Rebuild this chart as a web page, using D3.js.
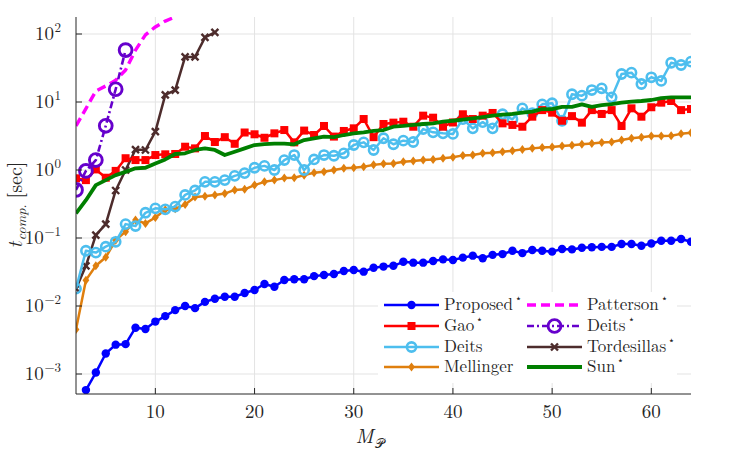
<!DOCTYPE html>
<html><head><meta charset="utf-8">
<script src="https://cdn.jsdelivr.net/npm/d3@7"></script>
<style>
html,body{margin:0;padding:0;background:#fff;}
</style></head>
<body><svg id="chart" width="738" height="458"></svg>
<script>
// ---------- data ----------
const proposedStart = 3;
const proposed = [0.00058,0.00105,0.0020,0.0027,0.00275,0.0048,0.0046,0.0059,0.0071,0.0087,0.0100,0.0093,0.0115,0.0128,0.0137,0.0137,0.0155,0.0172,0.0211,0.0192,0.0241,0.0247,0.0247,0.0275,0.0286,0.0295,0.0327,0.0339,0.0320,0.0366,0.0380,0.0390,0.0447,0.0434,0.0434,0.0460,0.0485,0.0475,0.0515,0.055,0.0505,0.0565,0.058,0.065,0.060,0.0667,0.065,0.063,0.069,0.068,0.072,0.073,0.074,0.074,0.0817,0.0817,0.077,0.083,0.091,0.091,0.0966,0.088];
const gaoStart = 2;
const gao = [0.755,0.71,1.02,0.77,0.97,1.49,1.40,1.40,1.66,1.70,1.72,2.2,2.08,3.16,2.58,3.04,2.43,3.56,3.35,2.98,3.46,3.87,2.55,3.8,3.27,4.44,3.1,3.75,4.1,5.62,3.04,4.75,4.97,5.13,4.33,6.3,5.88,4.33,5.0,6.6,5.62,6.3,6.9,4.85,4.6,4.33,6.08,7.6,6.97,5.3,6.2,4.97,7.6,6.67,7.6,4.44,8.07,6.08,8.37,9.78,10.35,7.6,7.88];
const deitsStart = 2;
const deits = [0.018,0.065,0.061,0.0745,0.088,0.16,0.15,0.235,0.273,0.264,0.29,0.43,0.50,0.67,0.67,0.71,0.82,0.90,1.08,1.15,1.0,1.40,1.66,1.0,1.43,1.66,1.62,1.76,2.33,2.55,1.97,2.93,2.39,2.70,2.58,4.0,3.58,3.46,3.39,5.6,4.1,5.05,4.1,6.6,5.57,8.07,6.83,9.25,9.6,5.3,13.0,12.4,15.0,15.9,11.7,25.8,27.0,18.4,23.1,20.4,37.8,35.0,39.2];
const mellingerStart = 2;
const mellinger = [0.0045,0.024,0.039,0.052,0.093,0.124,0.184,0.164,0.20,0.26,0.27,0.31,0.40,0.41,0.43,0.45,0.51,0.52,0.60,0.67,0.71,0.76,0.77,0.84,0.91,0.94,1.0,1.06,1.08,1.12,1.19,1.24,1.25,1.32,1.36,1.40,1.43,1.49,1.54,1.64,1.66,1.76,1.80,1.86,1.92,2.01,2.08,2.15,2.18,2.26,2.32,2.40,2.45,2.53,2.58,2.76,2.93,3.04,3.16,3.16,3.2,3.4,3.54];
const pattersonStart = 2;
const patterson = [4.44,8.0,14.5,17.2,20.9,29.6,58,97,127,155,178];
const deitsStarStart = 2;
const deitsStar = [0.51,0.97,1.40,4.47,15.4,58];
const tordesillasStart = 2;
const tordesillas = [0.018,0.039,0.11,0.16,0.50,1.0,2.0,1.97,3.66,12.7,15.0,46,46,89,106];
const sunStart = 2;
const sun = [0.23,0.36,0.6,0.71,0.84,0.94,1.06,1.08,1.25,1.43,1.72,1.76,1.97,2.08,1.97,1.66,1.86,2.08,2.33,2.41,2.45,2.45,2.39,2.76,2.93,3.1,3.04,3.27,3.46,3.58,3.75,3.87,4.33,4.44,4.6,4.75,4.86,5.13,5.3,5.5,5.75,6.0,6.3,6.5,6.67,6.97,7.2,7.88,7.88,8.5,8.5,9.25,8.5,9.0,9.3,9.78,10.1,10.35,10.7,11.4,11.7,11.7,11.7];
const xTicks = [10,20,30,40,50,60];
const yTickExps = [-3,-2,-1,0,1,2];

// ---------- layout ----------
const FONT = "'Latin Modern Roman'";
const INK = "#262626";
const svg = d3.select("#chart");
const L = 76, R = 691, T = 17, B = 394;
const x = d3.scaleLinear().domain([2,64]).range([L,R]);
const y = d3.scaleLog().domain([Math.pow(10,-3.294), Math.pow(10,2.25)]).range([B,T]);

function txt(g, xx, yy, size, str, opts={}){
  const t = g.append("text").attr("x",xx).attr("y",yy).style("font-family",opts.family||FONT)
    .attr("fill",INK).attr("font-size",size).text(str);
  if(opts.anchor) t.attr("text-anchor",opts.anchor);
  if(opts.italic) t.attr("font-style","italic");
  return t;
}

svg.append("defs").append("clipPath").attr("id","clip")
  .append("rect").attr("x",L).attr("y",T).attr("width",R-L).attr("height",B-T);

// grid
const grid = svg.append("g");
xTicks.forEach(t=>grid.append("line").attr("x1",x(t)).attr("x2",x(t)).attr("y1",T).attr("y2",B)
  .attr("stroke","#e3e3e3").attr("stroke-width",1));
yTickExps.forEach(e=>grid.append("line").attr("x1",L).attr("x2",R).attr("y1",y(Math.pow(10,e))).attr("y2",y(Math.pow(10,e)))
  .attr("stroke","#e3e3e3").attr("stroke-width",1));

// series
function toPts(start, arr){ return arr.map((v,i)=>[start+i, v]); }
const series = [
  {name:"Proposed", star:true, data:toPts(proposedStart,proposed), color:"#0000ff", w:2.5, dash:null, marker:"dot"},
  {name:"Gao", star:true, data:toPts(gaoStart,gao), color:"#ff0000", w:2.5, dash:null, marker:"square"},
  {name:"Deits", star:false, data:toPts(deitsStart,deits), color:"#4dbeee", w:2.5, dash:null, marker:"ocircle"},
  {name:"Mellinger", star:false, data:toPts(mellingerStart,mellinger), color:"#df7f0e", w:2.5, dash:null, marker:"diamond"},
  {name:"Patterson", star:true, data:toPts(pattersonStart,patterson), color:"#ff00ff", w:3.4, dash:"9,5", marker:null},
  {name:"Deits", star:true, data:toPts(deitsStarStart,deitsStar), color:"#6600cc", w:2.6, dash:"7,3,2,3", marker:"bigcircle"},
  {name:"Tordesillas", star:true, data:toPts(tordesillasStart,tordesillas), color:"#4d2c2c", w:2.5, dash:null, marker:"cross"},
  {name:"Sun", star:true, data:toPts(sunStart,sun), color:"#007f00", w:3.8, dash:null, marker:null}
];
const drawOrder = [6,3,2,1,7,0,4,5];

const line = d3.line().x(d=>x(d[0])).y(d=>y(d[1]));
const plot = svg.append("g").attr("clip-path","url(#clip)");

function drawMarker(g, type, cx, cy, color){
  if(type==="dot") g.append("circle").attr("cx",cx).attr("cy",cy).attr("r",4.2).attr("fill",color);
  else if(type==="square") g.append("rect").attr("x",cx-4).attr("y",cy-4).attr("width",8).attr("height",8).attr("fill",color);
  else if(type==="ocircle") g.append("circle").attr("cx",cx).attr("cy",cy).attr("r",4.6).attr("fill","none").attr("stroke",color).attr("stroke-width",2.6);
  else if(type==="bigcircle") g.append("circle").attr("cx",cx).attr("cy",cy).attr("r",6.4).attr("fill","none").attr("stroke",color).attr("stroke-width",2.9);
  else if(type==="diamond") g.append("path").attr("d",`M${cx},${cy-4.5}L${cx+3.4},${cy}L${cx},${cy+4.5}L${cx-3.4},${cy}Z`).attr("fill",color);
  else if(type==="cross") g.append("path").attr("d",`M${cx-3.5},${cy-3.5}L${cx+3.5},${cy+3.5}M${cx-3.5},${cy+3.5}L${cx+3.5},${cy-3.5}`).attr("stroke",color).attr("stroke-width",2.4);
}

drawOrder.forEach(i=>{
  const s = series[i];
  const g = plot.append("g");
  g.append("path").attr("d",line(s.data)).attr("fill","none").attr("stroke",s.color)
    .attr("stroke-width",s.w).attr("stroke-dasharray",s.dash).attr("stroke-linejoin","round");
  if(s.marker) s.data.forEach(d=>drawMarker(g,s.marker,x(d[0]),y(d[1]),s.color));
});

// axes
const ax = svg.append("g");
ax.append("line").attr("x1",L).attr("x2",L).attr("y1",T).attr("y2",B).attr("stroke",INK).attr("stroke-width",1);
ax.append("line").attr("x1",L).attr("x2",R).attr("y1",B).attr("y2",B).attr("stroke",INK).attr("stroke-width",1);
xTicks.forEach(t=>{
  ax.append("line").attr("x1",x(t)).attr("x2",x(t)).attr("y1",B).attr("y2",B-6).attr("stroke",INK);
  txt(ax, x(t), B+24, 19, t, {anchor:"middle"});
});
yTickExps.forEach(e=>{
  const yy = y(Math.pow(10,e));
  ax.append("line").attr("x1",L).attr("x2",L+6).attr("y1",yy).attr("y2",yy).attr("stroke",INK);
  const ex = e<0 ? "\u2212"+(-e) : String(e);
  const sup = txt(ax, L-15, yy-2, 13, ex, {anchor:"end"});
  const w = sup.node().getComputedTextLength();
  txt(ax, L-15-w-0.5, yy+6, 19, "10", {anchor:"end"});
});

// x axis label
{
  const m = txt(svg, 0, 443, 20, "M", {italic:true});
  const mw = m.node().getComputedTextLength();
  const p = txt(svg, 0, 448, 13, "\u{1D4AB}");
  const pw = p.node().getComputedTextLength();
  const x0 = 369 - (mw+pw)/2;
  m.attr("x", x0);
  p.attr("x", x0+mw+2);
}
// y axis label
{
  const g = svg.append("g").attr("transform","translate(22,205) rotate(-90)");
  const t1 = txt(g, 0, 0, 20, "t", {italic:true});
  const w1 = t1.node().getComputedTextLength();
  const t2 = txt(g, 0, 4, 14, "comp.", {italic:true});
  const w2 = t2.node().getComputedTextLength();
  const t3 = txt(g, 0, 0, 20, "[sec]");
  const w3 = t3.node().getComputedTextLength();
  const gap = 6;
  const total = w1 + 1.5 + w2 + gap + w3;
  const s0 = -total/2;
  t1.attr("x", s0);
  t2.attr("x", s0+w1+1.5);
  t3.attr("x", s0+w1+1.5+w2+gap);
}

// legend
const lg = svg.append("g");
lg.append("rect").attr("x",378).attr("y",292).attr("width",299).attr("height",91).attr("fill","#fff");
const rowsY = [305,326,347,367];
series.forEach((s,i)=>{
  const col = i<4 ? 0 : 1, row = i%4;
  const x0 = col===0 ? 384 : 527, yy = rowsY[row];
  lg.append("line").attr("x1",x0).attr("x2",x0+55).attr("y1",yy).attr("y2",yy).attr("stroke",s.color)
    .attr("stroke-width",s.w).attr("stroke-dasharray",s.dash);
  if(s.marker) drawMarker(lg,s.marker,x0+27.5,yy,s.color);
  const t = txt(lg, x0+60, yy+5, 17, s.name);
  if(s.star){
    const w = t.node().getComputedTextLength();
    txt(lg, x0+60+w+2, yy-3, 11, "\u22c6");
  }
});
</script></body></html>
